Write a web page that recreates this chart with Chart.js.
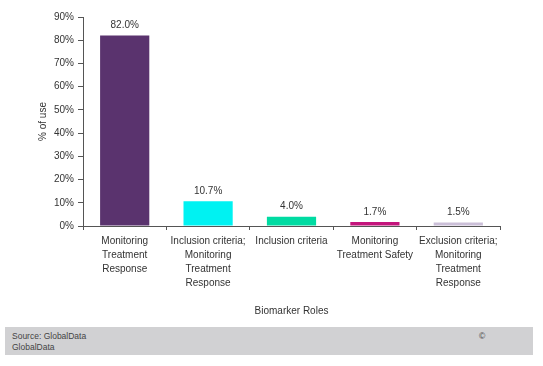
<!DOCTYPE html>
<html><head><meta charset="utf-8">
<script src="https://cdn.jsdelivr.net/npm/chart.js@4/dist/chart.umd.min.js"></script>
<style>
html,body{margin:0;padding:0;background:#fff;width:543px;height:366px;overflow:hidden;font-family:"Liberation Sans",Arial,sans-serif;}
#wrap{position:absolute;left:0;top:0;width:543px;height:325px;}
#foot{position:absolute;left:5px;top:327px;width:528px;height:28px;background:#d1d1d3;font-size:8.5px;color:#444;}
#foot .s{position:absolute;left:7px;top:4px;line-height:11px;}
#foot .c{position:absolute;left:474px;top:4px;}
</style></head><body>
<div id="wrap"><canvas id="c"></canvas></div>
<div id="foot"><div class="s">Source: GlobalData<br>GlobalData</div><div class="c">©</div></div>
<script>
const categories = [
  ["Monitoring","Treatment","Response"],
  ["Inclusion criteria;","Monitoring","Treatment","Response"],
  ["Inclusion criteria"],
  ["Monitoring","Treatment Safety"],
  ["Exclusion criteria;","Monitoring","Treatment","Response"]
];
const values = [82.0, 10.7, 4.0, 1.7, 1.5];
const barColors = ["#5a336e","#00f2f2","#00dba2","#c4147c","#cbbfd8"];
const yTicks = [0,10,20,30,40,50,60,70,80,90];

const labelPlugin = {
  id:'vals',
  afterDatasetsDraw(chart){
    const ctx = chart.ctx;
    const meta = chart.getDatasetMeta(0);
    ctx.save();
    ctx.font = '10px "Liberation Sans", Arial, sans-serif';
    ctx.fillStyle = '#333';
    ctx.textAlign = 'center';
    ctx.textBaseline = 'bottom';
    meta.data.forEach((bar,i)=>{
      ctx.fillText(values[i].toFixed(1)+'%', bar.x, bar.y - 5);
    });
    ctx.restore();
  }
};

new Chart(document.getElementById('c'),{
  type:'bar',
  data:{labels:categories,datasets:[{data:values,backgroundColor:barColors,barPercentage:0.59,categoryPercentage:1}]},
  options:{
    responsive:true,maintainAspectRatio:false,animation:false,
    layout:{padding:{top:17,right:43,left:33,bottom:4}},
    plugins:{legend:{display:false},tooltip:{enabled:false}},
    scales:{
      x:{
        offset:true,
        grid:{display:true,drawOnChartArea:false,offset:true,color:'#555',tickLength:4},
        border:{color:'#555'},
        ticks:{color:'#333',font:{size:10,family:'"Liberation Sans", Arial, sans-serif',lineHeight:1.4},maxRotation:0,autoSkip:false,padding:4},
        title:{display:true,text:'Biomarker Roles',color:'#333',font:{size:10,family:'"Liberation Sans", Arial, sans-serif'},padding:{top:10}},
        afterFit(s){s.height=95;}
      },
      y:{
        min:0,max:90,
        afterBuildTicks(s){s.ticks=yTicks.map(v=>({value:v}));},
        grid:{display:true,drawOnChartArea:false,color:'#555',tickLength:5},
        border:{color:'#555'},
        ticks:{color:'#333',font:{size:10,family:'"Liberation Sans", Arial, sans-serif'},callback:v=>v+'%',padding:4},
        title:{display:true,text:'% of use',color:'#333',font:{size:10,family:'"Liberation Sans", Arial, sans-serif'},padding:{bottom:6}},
        afterFit(s){s.width=50;}
      }
    }
  },
  plugins:[labelPlugin]
});
</script>
</body></html>
